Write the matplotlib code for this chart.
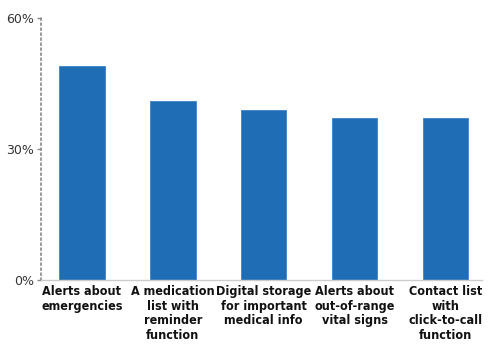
import matplotlib.pyplot as plt
import numpy as np

#### -------- データ -------- ####
categories = [
    "Alerts about\nemergencies",
    "A medication\nlist with\nreminder\nfunction",
    "Digital storage\nfor important\nmedical info",
    "Alerts about\nout-of-range\nvital signs",
    "Contact list\nwith\nclick-to-call\nfunction",
]
values = [49, 41, 39, 37, 37]
yticks = [0, 30, 60]
ytick_labels = ["0%", "30%", "60%"]

#### -------- グラフ設定 -------- ####
fig = plt.figure(figsize=(4.99, 3.49), dpi=100)
ax = fig.add_axes([0.082, 0.198, 0.884, 0.750])

x = np.arange(len(categories))
ax.bar(x, values, width=0.5, color="#1f6db4", edgecolor="#3d85c6", linewidth=0.6)

ax.set_xlim(-0.45, 4.4)
ax.set_ylim(0, 60)

for s in ["top", "right"]:
    ax.spines[s].set_visible(False)
ax.spines["left"].set_linestyle((0, (1, 2)))
ax.spines["left"].set_color("#888888")
ax.spines["left"].set_linewidth(1.2)
ax.spines["bottom"].set_color("#cccccc")
ax.spines["bottom"].set_linewidth(1)

ax.set_yticks(yticks)
ax.set_yticklabels(ytick_labels, fontsize=9, color="#333333", family="DejaVu Sans")
ax.tick_params(axis="y", length=3, width=1, color="#888888", pad=2)

ax.set_xticks(x)
ax.set_xticklabels(
    categories,
    fontsize=9,
    fontweight="bold",
    fontstretch="condensed",
    family="DejaVu Sans",
    linespacing=1.15,
    color="#111111",
)
ax.tick_params(axis="x", length=0, pad=4)

fig.savefig("out.png", dpi=100)
